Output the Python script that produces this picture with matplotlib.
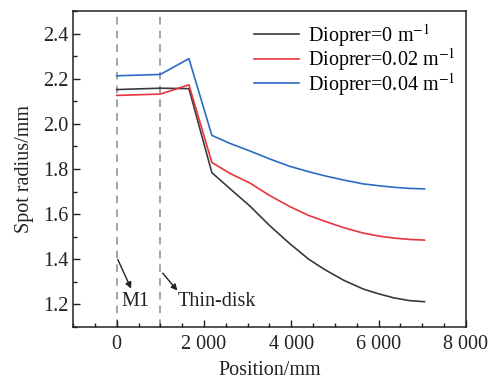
import matplotlib
matplotlib.use("Agg")
import matplotlib.pyplot as plt
from matplotlib.ticker import MultipleLocator, FuncFormatter

plt.rcParams['font.family'] = ['Liberation Serif', 'DejaVu Serif']
plt.rcParams['mathtext.fontset'] = 'stix'

position = [0, 1000, 1655, 2180, 2600, 3050, 3500, 3960, 4400, 4760, 5200, 5650, 6000, 6350, 6700, 7050]
radius_0 = [2.152, 2.158, 2.156, 1.784, 1.712, 1.636, 1.550, 1.470, 1.400, 1.355, 1.307, 1.268, 1.247, 1.229, 1.217, 1.212]
radius_002 = [2.126, 2.132, 2.173, 1.829, 1.780, 1.738, 1.683, 1.634, 1.594, 1.569, 1.540, 1.516, 1.503, 1.494, 1.488, 1.485]
radius_004 = [2.213, 2.219, 2.289, 1.949, 1.913, 1.880, 1.845, 1.812, 1.788, 1.770, 1.751, 1.734, 1.726, 1.719, 1.714, 1.712]
labels = ['Dioprer=0 m$^{-1}$', 'Dioprer=0.02 m$^{-1}$', 'Dioprer=0.04 m$^{-1}$']
colors = ['#3a3a3a', '#e8343e', '#2a6cc4']
marker_x = [0, 1000]

fig = plt.figure(figsize=(4.91, 3.80), dpi=100)
ax = fig.add_axes([0.1487, 0.1395, 0.8003, 0.8315])

for x in marker_x:
    ax.axvline(x, color='#8c8c8c', linestyle=(0, (5, 4)), linewidth=1.1, zorder=1)

for y, lab, c in zip([radius_0, radius_002, radius_004], labels, colors):
    ax.plot(position, y, color=c, linewidth=1.2, label=lab, zorder=3)

ax.set_xlim(-1000, 8000)
ax.set_ylim(1.1, 2.5)
ax.xaxis.set_major_locator(MultipleLocator(2000))
ax.xaxis.set_minor_locator(MultipleLocator(500))
ax.yaxis.set_major_locator(MultipleLocator(0.2))
ax.yaxis.set_minor_locator(MultipleLocator(0.1))

def fmt_x(v, p):
    v = int(round(v))
    if abs(v) >= 1000:
        return f"{v // 1000} {abs(v) % 1000:03d}"
    return f"{v}"

ax.xaxis.set_major_formatter(FuncFormatter(fmt_x))
ax.yaxis.set_major_formatter(FuncFormatter(lambda v, p: f"{v:.1f}"))
ax.tick_params(which='both', direction='in', top=False, right=False, labelsize=14.5, colors='#222222')
ax.tick_params(which='major', length=5, width=1)
ax.tick_params(which='minor', length=3, width=1)
ax.tick_params(axis='x', which='major', pad=6)
for s in ax.spines.values():
    s.set_linewidth(1.1)
    s.set_color('#222222')

ax.set_xlabel('Position/mm', fontsize=14.5, color='#222222', labelpad=5)
ax.set_ylabel('Spot radius/mm', fontsize=14.5, color='#222222', labelpad=6)

ax.annotate('', xy=(357, 1.259), xytext=(0, 1.41),
            arrowprops=dict(arrowstyle='-|>', color='#222222', lw=1.0, mutation_scale=9))
ax.text(120, 1.215, 'M1', fontsize=14.5, color='#222222', va='center', ha='left')
ax.annotate('', xy=(1431, 1.252), xytext=(1013, 1.348),
            arrowprops=dict(arrowstyle='-|>', color='#222222', lw=1.0, mutation_scale=9))
ax.text(1394, 1.215, 'Thin-disk', fontsize=14.5, color='#222222', va='center', ha='left')

ax.legend(loc='upper right', frameon=False, fontsize=14.5, handlelength=2.2,
          handletextpad=0.45, labelspacing=-0.12, borderaxespad=0.1,
          bbox_to_anchor=(0.998, 0.997))

fig.savefig('out.png', dpi=100)
